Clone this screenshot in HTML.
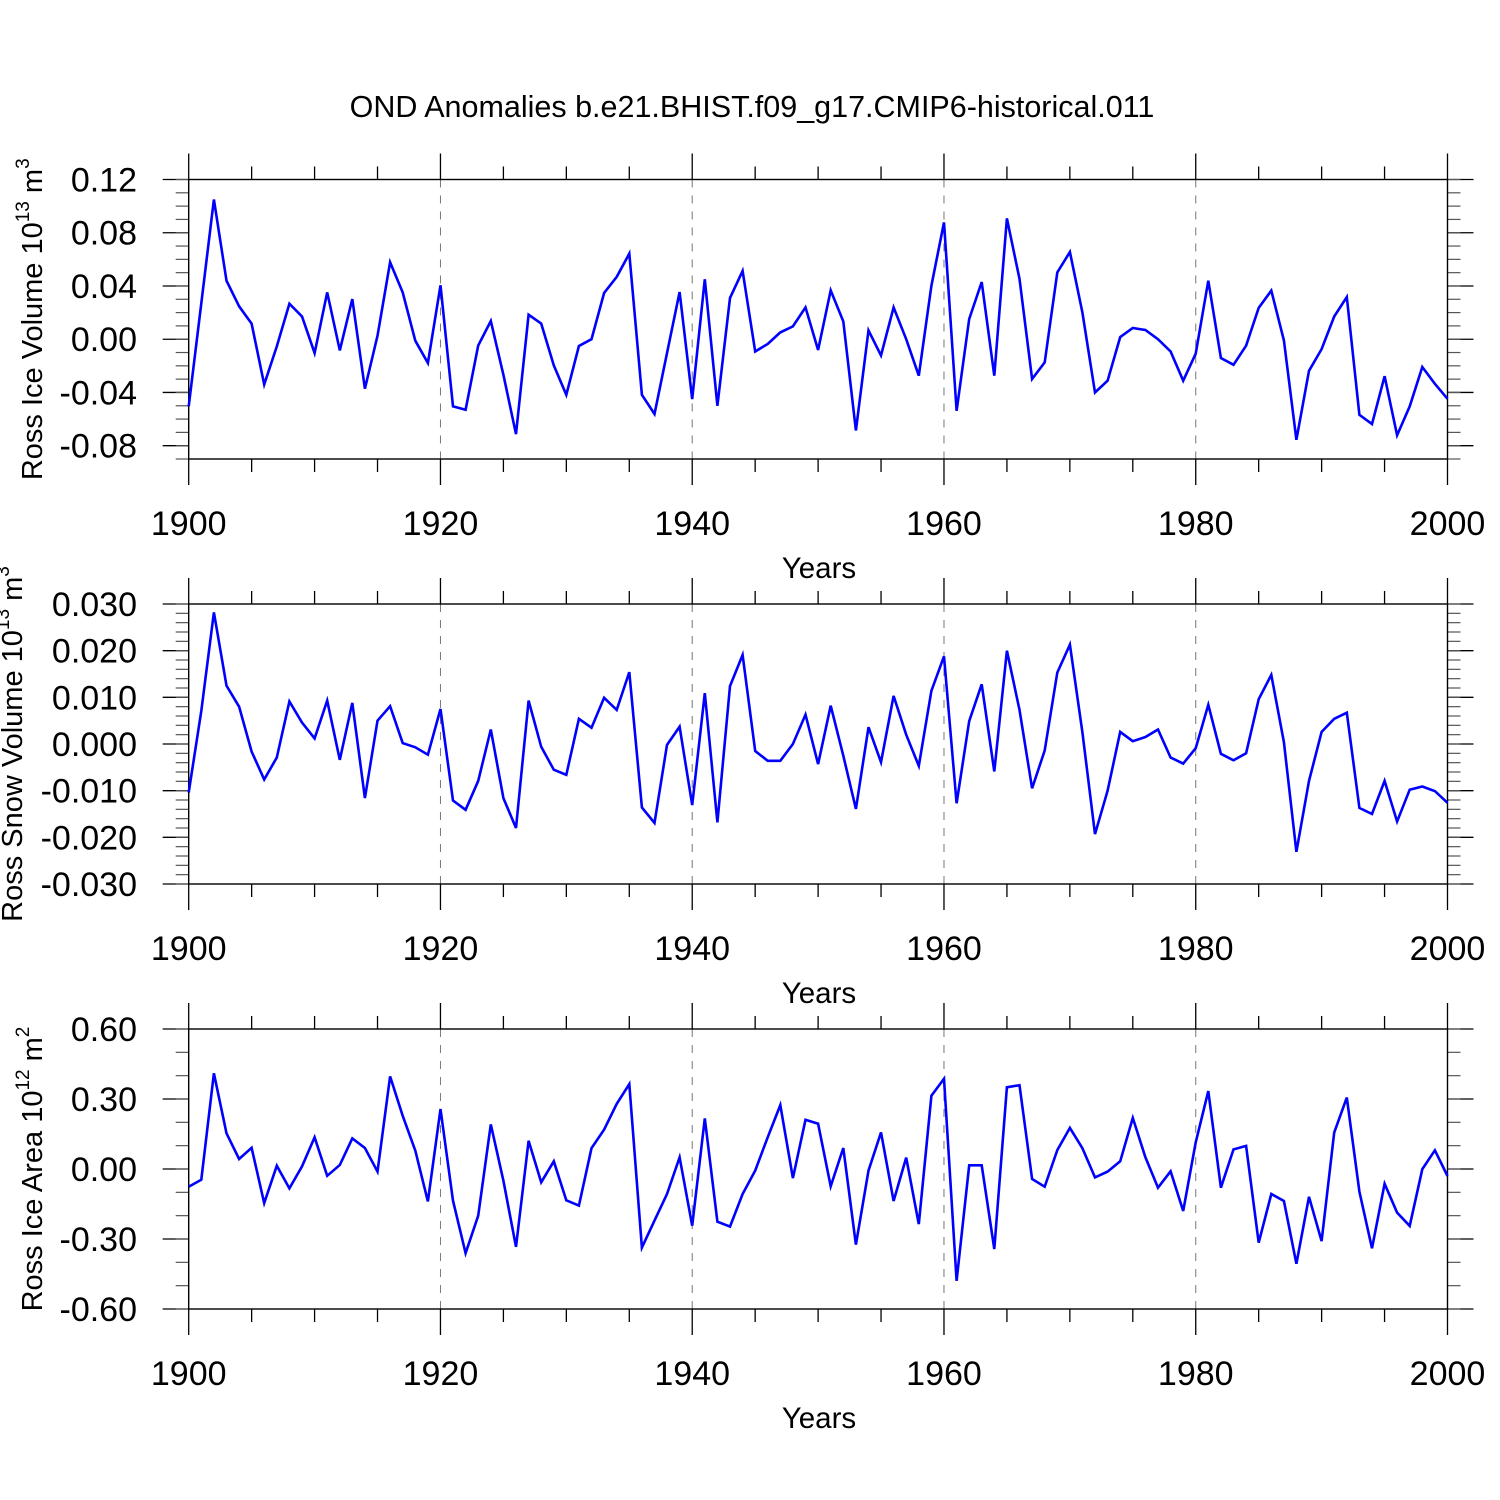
<!DOCTYPE html>
<html><head><meta charset="utf-8">
<style>
html,body{margin:0;padding:0;background:#fff;}
svg{display:block;font-family:"Liberation Sans",Arial,sans-serif;}
</style></head>
<body>
<svg id="chart" width="1500" height="1500" viewBox="0 0 1500 1500" xmlns="http://www.w3.org/2000/svg">
<rect width="1500" height="1500" fill="#fff"/>
<text x="752" y="117" font-size="30.5" text-anchor="middle">OND Anomalies b.e21.BHIST.f09_g17.CMIP6-historical.011</text>
</svg>
<script>
const years = Array.from({length:101},(_, i)=>1900+i);
const iceVolume = [-0.0505,0.027,0.105,0.044,0.0247,0.0117,-0.034,-0.0054,0.0267,0.0171,
-0.0104,0.0352,-0.0084,0.0302,-0.0372,0.0026,0.0578,0.0352,-0.0011,-0.0179,
0.0405,-0.0505,-0.053,-0.0047,0.0137,-0.0267,-0.0713,0.0184,0.0117,-0.0197,
-0.0418,-0.0051,0.0,0.0347,0.0468,0.0643,-0.0418,-0.0562,-0.0104,0.0355,
-0.045,0.0451,-0.05,0.031,0.0513,-0.0092,-0.0036,0.0051,0.0096,0.0239,
-0.0081,0.0367,0.0134,-0.0686,0.0066,-0.0122,0.0239,0.0,-0.0274,0.0402,
0.0878,-0.0538,0.0152,0.043,-0.0274,0.0908,0.0453,-0.0299,-0.0174,0.0502,
0.0655,0.0201,-0.04,-0.0312,0.0016,0.0084,0.0069,0.0,-0.0092,-0.0312,
-0.0109,0.044,-0.0141,-0.0192,-0.0049,0.0235,0.0365,-0.0009,-0.0756,-0.0237,
-0.0074,0.0171,0.0317,-0.0568,-0.0638,-0.0278,-0.0722,-0.0505,-0.0209,-0.0335,-0.0448];
const snowVolume = [-0.0104,0.0071,0.0282,0.0125,0.0080,-0.0016,-0.0076,-0.0029,0.0091,0.0046,
0.0012,0.0093,-0.0034,0.0088,-0.0116,0.0050,0.0081,0.0002,-0.0007,-0.0023,
0.0075,-0.0121,-0.0141,-0.0079,0.0031,-0.0116,-0.0180,0.0093,-0.0006,-0.0055,
-0.0066,0.0054,0.0035,0.0099,0.0073,0.0154,-0.0136,-0.0169,-0.0002,0.0037,
-0.0131,0.0109,-0.0168,0.0124,0.0191,-0.0015,-0.0036,-0.0036,0.0,0.0063,
-0.0043,0.0082,-0.0025,-0.0139,0.0036,-0.0039,0.0103,0.0020,-0.0047,0.0114,
0.0188,-0.0127,0.0049,0.0128,-0.0059,0.0200,0.0073,-0.0095,-0.0014,0.0153,
0.0213,0.0025,-0.0193,-0.0100,0.0026,0.0006,0.0015,0.0031,-0.0029,-0.0042,
-0.0009,0.0084,-0.0021,-0.0035,-0.0020,0.0096,0.0148,0.0004,-0.0231,-0.0079,
0.0026,0.0054,0.0067,-0.0137,-0.0150,-0.0079,-0.0166,-0.0098,-0.0091,-0.0101,-0.0126];
const iceArea = [-0.076,-0.046,0.410,0.153,0.043,0.091,-0.146,0.014,-0.083,0.011,
0.136,-0.029,0.017,0.131,0.090,-0.011,0.397,0.228,0.079,-0.139,
0.257,-0.136,-0.361,-0.200,0.191,-0.050,-0.334,0.121,-0.057,0.033,
-0.134,-0.157,0.089,0.169,0.279,0.364,-0.337,-0.221,-0.107,0.050,
-0.243,0.217,-0.226,-0.247,-0.107,-0.007,0.136,0.274,-0.039,0.211,
0.194,-0.074,0.090,-0.324,-0.007,0.157,-0.137,0.049,-0.236,0.314,
0.387,-0.479,0.016,0.016,-0.343,0.350,0.359,-0.043,-0.076,0.081,
0.176,0.089,-0.036,-0.011,0.033,0.219,0.050,-0.080,-0.010,-0.180,
0.114,0.334,-0.080,0.084,0.099,-0.316,-0.107,-0.137,-0.406,-0.119,
-0.309,0.156,0.306,-0.097,-0.340,-0.063,-0.187,-0.244,-0.001,0.080,-0.030];
const xTickLabels = ["1900","1920","1940","1960","1980","2000"];
const ticks1 = ["0.12","0.08","0.04","0.00","-0.04","-0.08"];
const ticks2 = ["0.030","0.020","0.010","0.000","-0.010","-0.020","-0.030"];
const ticks3 = ["0.60","0.30","0.00","-0.30","-0.60"];

const NS="http://www.w3.org/2000/svg";
const svg=document.getElementById('chart');
function mk(tag,attrs,parent){const e=document.createElementNS(NS,tag);for(const k in attrs)e.setAttribute(k,attrs[k]);(parent||svg).appendChild(e);return e;}
const X0=188.7,X1=1447.5;
function xs(yr){return X0+(yr-1900)*(X1-X0)/100;}

function panel(cfg){
  const g=mk('g',{});
  
  
  const ys=v=>cfg.top+(cfg.ymax-v)*(cfg.bot-cfg.top)/(cfg.ymax-cfg.ymin);
  for(let yr=1920;yr<=1980;yr+=20){
    const l=mk('line',{x1:xs(yr),x2:xs(yr),y1:cfg.top,y2:cfg.bot,stroke:'#777','stroke-width':1,'stroke-dasharray':'8,8'},g);
    
    
  }
  for(let yr=1900;yr<=2000;yr+=5){
    const major=yr%20===0, len=major?26:13;
    mk('line',{x1:xs(yr),x2:xs(yr),y1:cfg.top-len,y2:cfg.top,stroke:'#000','stroke-width':1.3},g);
    mk('line',{x1:xs(yr),x2:xs(yr),y1:cfg.bot,y2:cfg.bot+len,stroke:'#000','stroke-width':1.3},g);
  }
  const nMaj=cfg.labels.length;
  for(let i=0;i<nMaj;i++){
    const v=parseFloat(cfg.labels[i]);const y=ys(v);
    mk('line',{x1:X0-26,x2:X0,y1:y,y2:y,stroke:'#000','stroke-width':1.3},g);
    mk('line',{x1:X1,x2:X1+26,y1:y,y2:y,stroke:'#000','stroke-width':1.3},g);
    const t=mk('text',{x:137,y:y+12,'font-size':34,'text-anchor':'end'},g);
    t.textContent=cfg.labels[i];
    
    
  }
  for(let v=cfg.ymin;v<=cfg.ymax+1e-9;v+=cfg.minor){
    const y=ys(v);
    mk('line',{x1:X0-13,x2:X0,y1:y,y2:y,stroke:'#555','stroke-width':1.2},g);
    mk('line',{x1:X1,x2:X1+13,y1:y,y2:y,stroke:'#555','stroke-width':1.2},g);
  }
  const f=mk('rect',{x:X0,y:cfg.top,width:X1-X0,height:cfg.bot-cfg.top,fill:'none',stroke:'#000','stroke-width':1.4},g);
  
  
  for(let i=0;i<xTickLabels.length;i++){
    const t=mk('text',{x:xs(+xTickLabels[i]),y:cfg.bot+76,'font-size':34,'text-anchor':'middle'},g);
    t.textContent=xTickLabels[i];
    
    
  }
  const xt=mk('text',{x:819,y:cfg.bot+119,'font-size':29.5,'text-anchor':'middle'},g);
  xt.textContent='Years';
  
  
  const cy=(cfg.top+cfg.bot)/2;
  const yt=mk('text',{x:0,y:0,'font-size':29,'text-anchor':'middle',transform:`translate(${cfg.tx},${cy}) rotate(-90)`},g);
  yt.innerHTML=cfg.title;
  
  
  const pts=cfg.data.map((v,i)=>xs(years[i]).toFixed(1)+','+ys(v).toFixed(1)).join(' ');
  const pl=mk('polyline',{points:pts,fill:'none',stroke:'#0000ff','stroke-width':2.6,'stroke-linejoin':'miter'},g);
  
  
}
panel({name:'ice-volume-panel',tx:42,top:179.5,bot:459,ymax:0.12,ymin:-0.09,minor:0.01,labels:ticks1,data:iceVolume,
  title:'Ross Ice Volume 10<tspan font-size="19" dy="-13">13</tspan><tspan dy="13"> m</tspan><tspan font-size="19" dy="-13">3</tspan>'});
panel({name:'snow-volume-panel',tx:22,top:604,bot:884,ymax:0.03,ymin:-0.03,minor:0.002,labels:ticks2,data:snowVolume,
  title:'Ross Snow Volume 10<tspan font-size="19" dy="-13">13</tspan><tspan dy="13"> m</tspan><tspan font-size="19" dy="-13">3</tspan>'});
panel({name:'ice-area-panel',tx:42,top:1029,bot:1309,ymax:0.6,ymin:-0.6,minor:0.1,labels:ticks3,data:iceArea,
  title:'Ross Ice Area 10<tspan font-size="19" dy="-13">12</tspan><tspan dy="13"> m</tspan><tspan font-size="19" dy="-13">2</tspan>'});
</script>
</body></html>
